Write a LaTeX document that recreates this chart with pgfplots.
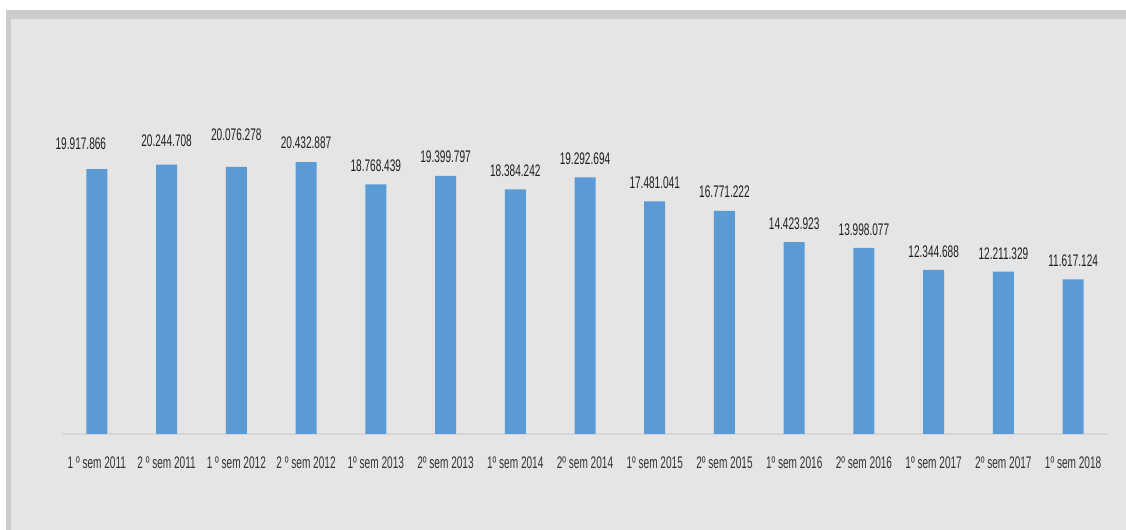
\documentclass[border=0pt]{standalone}
\usepackage{fontspec}
\setmainfont[FakeStretch=0.6]{Liberation Sans}
\usepackage{pgfplots}
\usepackage{pgfplotstable}
\pgfplotsset{compat=1.18}

\definecolor{barblue}{HTML}{5B9BD5}
\definecolor{bggray}{HTML}{E5E5E5}
\definecolor{framegray}{HTML}{CECBCB}
\definecolor{basegray}{HTML}{D6D6D6}
\definecolor{labeltxt}{HTML}{1F1F1F}
\definecolor{ticktxt}{HTML}{333333}

% values in millions, label text, label offsets (pt)
\pgfplotstableread{
x  y          lbl         dy   dx
0  19.917866  19.917.866  9.5  -8
1  20.244708  20.244.708  8.7  0
2  20.076278  20.076.278  13   0
3  20.432887  20.432.887  6.5  0
4  18.768439  18.768.439  6.2  0
5  19.399797  19.399.797  6.3  0
6  18.384242  18.384.242  6    0
7  19.292694  19.292.694  6.3  0
8  17.481041  17.481.041  6.2  0
9  16.771222  16.771.222  6.5  0
10 14.423923  14.423.923  6    0
11 13.998077  13.998.077  6    0
12 12.344688  12.344.688  6    0
13 12.211329  12.211.329  6    0
14 11.617124  11.617.124  6    0
}\semdata

\begin{document}
\begin{tikzpicture}[x=1pt,y=1pt]
\fill[white] (-31,-48) rectangle (532,217);
\fill[framegray] (-28,-48) rectangle (532,212);
\fill[bggray] (-25.5,-48) rectangle (532,207.5);
\begin{axis}[
  at={(0,0)}, anchor=south west,
  scale only axis, width=523pt, height=197pt,
  xmin=-0.5, xmax=14.5, ymin=0, ymax=29.62,
  axis x line=bottom, axis y line=none,
  x axis line style={draw=basegray, line width=0.6pt, -},
  xtick={0,...,14},
  xticklabels={1 º sem 2011, 2 º sem 2011, 1 º sem 2012, 2 º sem 2012,
    1º sem 2013, 2º sem 2013, 1º sem 2014, 2º sem 2014, 1º sem 2015,
    2º sem 2015, 1º sem 2016, 2º sem 2016, 1º sem 2017, 2º sem 2017,
    1º sem 2018},
  major tick length=0pt,
  xtick style={draw=none},
  ytick=\empty,
  xticklabel style={font=\fontsize{8.4}{10}\selectfont, text=ticktxt,
    inner sep=0pt, yshift=-11pt},
  ybar, bar width=10.5pt,
  nodes near coords,
  point meta=explicit symbolic,
  visualization depends on={\thisrow{dy}\as\labdy},
  visualization depends on={\thisrow{dx}\as\labdx},
  nodes near coords style={font=\fontsize{8.4}{10}\selectfont,
    text=labeltxt, anchor=south, inner sep=0pt,
    yshift=\labdy pt, xshift=\labdx pt},
  clip=false,
]
\addplot[fill=barblue, draw=none] table[x=x, y=y, meta=lbl] {\semdata};
\end{axis}
\end{tikzpicture}
\end{document}
